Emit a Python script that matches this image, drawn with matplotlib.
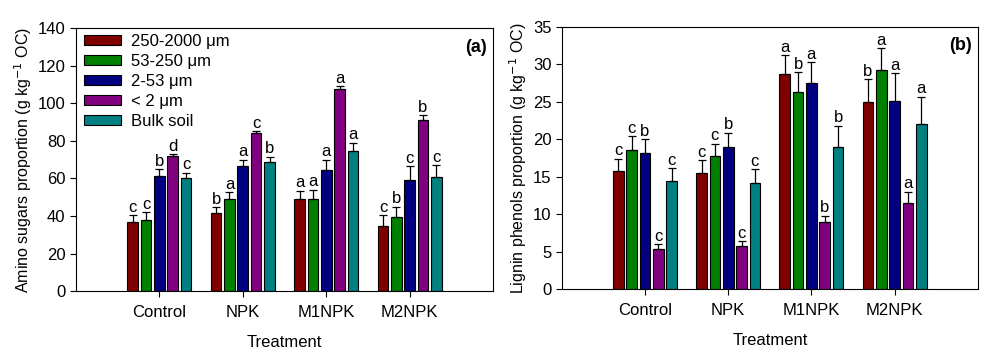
import matplotlib.pyplot as plt
import numpy as np

plt.rcParams['font.family'] = ['Liberation Sans', 'DejaVu Sans']

treatments = ["Control", "NPK", "M1NPK", "M2NPK"]
fractions = ["250-2000 μm", "53-250 μm", "2-53 μm", "< 2 μm", "Bulk soil"]
colors = ["#800000", "#008000", "#000080", "#800080", "#008080"]

# (a) amino sugars, rows = fractions, cols = treatments
amino = [[37.0, 41.5, 49.0, 34.5],
         [38.0, 49.0, 49.0, 39.5],
         [61.0, 66.5, 64.5, 59.0],
         [72.0, 84.0, 107.5, 91.0],
         [60.0, 68.5, 74.5, 60.5]]
amino_err = [[3.5, 3.0, 4.5, 6.0],
             [4.0, 3.5, 5.0, 5.5],
             [4.0, 3.5, 5.5, 7.5],
             [1.0, 1.0, 1.5, 2.5],
             [3.0, 3.0, 4.5, 6.5]]
amino_let = [["c", "b", "a", "c"],
             ["c", "a", "a", "b"],
             ["b", "a", "a", "c"],
             ["d", "c", "a", "b"],
             ["c", "b", "a", "c"]]

# (b) lignin phenols
lignin = [[15.8, 15.5, 28.7, 25.0],
          [18.5, 17.7, 26.3, 29.2],
          [18.1, 19.0, 27.5, 25.1],
          [5.4, 5.7, 8.9, 11.5],
          [14.4, 14.1, 19.0, 22.0]]
lignin_err = [[1.6, 1.7, 2.5, 3.0],
              [1.9, 1.7, 2.7, 3.0],
              [1.9, 1.9, 2.8, 3.7],
              [0.6, 0.7, 0.9, 1.5],
              [1.7, 1.9, 2.8, 3.7]]
lignin_let = [["c", "c", "a", "b"],
              ["c", "c", "b", "a"],
              ["b", "b", "a", "a"],
              ["c", "c", "b", "a"],
              ["c", "c", "b", "a"]]

fig = plt.figure(figsize=(10.05, 3.55), dpi=100)
ax1 = fig.add_axes([0.0756, 0.180, 0.415, 0.741])
ax2 = fig.add_axes([0.559, 0.186, 0.414, 0.738])

x = np.arange(1, 5)
pitch = 0.16
width = 0.128


def draw(ax, vals, errs, lets, ymax, ystep, ylabel, tag, off):
    for i in range(5):
        xi = x + (i - 2) * pitch
        ax.bar(xi, vals[i], width, color=colors[i], edgecolor="black",
               linewidth=0.8, label=fractions[i], zorder=2)
        ax.errorbar(xi, vals[i], yerr=[np.zeros(4), errs[i]], fmt="none",
                    ecolor="black", elinewidth=0.9, capsize=3, capthick=0.9, zorder=3)
        for j in range(4):
            ax.text(xi[j], vals[i][j] + errs[i][j] + off, lets[i][j],
                    ha="center", va="bottom", fontsize=12)
    ax.set_xlim(0, 5)
    ax.set_ylim(0, ymax)
    ax.set_yticks(np.arange(0, ymax + 0.1, ystep))
    ax.set_xticks(x)
    ax.set_xticklabels(treatments, fontsize=12)
    ax.tick_params(axis="y", labelsize=12, direction="out", length=4)
    ax.tick_params(axis="x", direction="out", length=4, pad=6)
    ax.set_xlabel("Treatment", fontsize=12, labelpad=11)
    ax.set_ylabel(ylabel, fontsize=11.5, labelpad=3)
    ax.text(0.985, 0.96, tag, transform=ax.transAxes, ha="right", va="top",
            fontsize=13, fontweight="bold")


draw(ax1, amino, amino_err, amino_let, 140, 20,
     "Amino sugars proportion (g kg$^{-1}$ OC)", "(a)", 0.2)
draw(ax2, lignin, lignin_err, lignin_let, 35, 5,
     "Lignin phenols proportion (g kg$^{-1}$ OC)", "(b)", 0.05)

ax1.legend(loc="upper left", bbox_to_anchor=(-0.005, 1.015), frameon=False,
           fontsize=12, handlelength=2.2, handleheight=0.55,
           labelspacing=0.3, handletextpad=0.6, borderaxespad=0.2)

fig.savefig("out.png", dpi=100)
